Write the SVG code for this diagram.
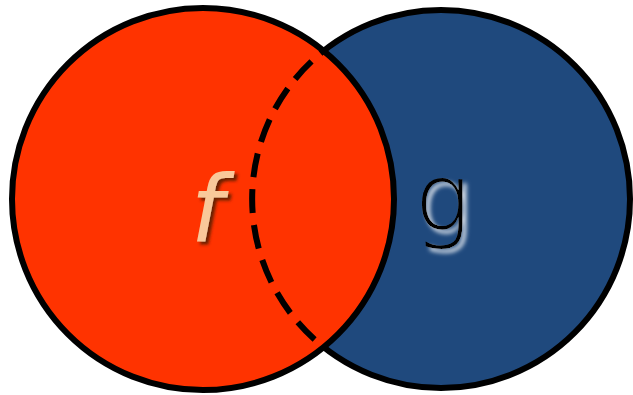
<svg xmlns="http://www.w3.org/2000/svg" width="633" height="395" viewBox="0 0 633 395">
<defs>
<style>
.c{stroke:#000;stroke-width:6}
.lbl{font-family:"DejaVu Sans",sans-serif;font-size:92px;font-weight:200;text-anchor:middle}
</style>
<filter id="sf" x="-50%" y="-50%" width="200%" height="200%">
<feDropShadow dx="3" dy="3" stdDeviation="1.5" flood-color="#5a1a00" flood-opacity="0.9"/>
</filter>
<filter id="sg" x="-50%" y="-50%" width="200%" height="200%">
<feDropShadow dx="4" dy="4" stdDeviation="2" flood-color="#ffffff" flood-opacity="0.85"/>
</filter>
</defs>
<rect width="633" height="395" fill="#fff"/>
<g id="g-set">
<circle class="c" cx="441" cy="199" r="189" fill="#1f497d"/>
</g>
<g id="f-set">
<circle class="c" cx="203" cy="199" r="191" fill="#ff3300"/>
</g>
<g id="connectors">
<path d="M 323.6 51 A 189 189 0 0 0 323.6 347" fill="none" stroke="#000" stroke-width="6" stroke-dasharray="24 12" stroke-dashoffset="-16"/>
</g>
<g id="f-label">
<text class="lbl" x="207" y="242" fill="#f9c89a" font-style="italic" filter="url(#sf)">f</text>
</g>
<g id="g-label">
<text class="lbl" x="442" y="230" fill="#000" filter="url(#sg)">g</text>
</g>
</svg>
